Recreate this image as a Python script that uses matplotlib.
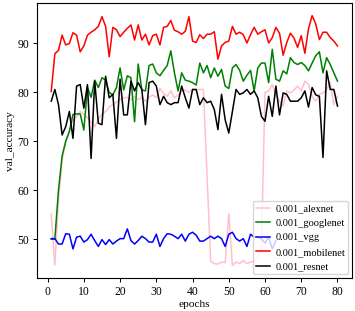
import numpy as np
import matplotlib
matplotlib.use("Agg")
import matplotlib.pyplot as plt

plt.rcParams['font.family'] = ['Liberation Serif', 'DejaVu Serif']

epochs = list(range(1, 81))

alexnet = [55.2, 44.7, 58.0, 66.0, 70.0, 72.0, 74.4, 75.0, 76.1, 75.5,
           74.8, 74.0, 73.0, 74.5, 75.5, 76.1, 77.0, 77.5, 78.0, 78.5,
           78.9, 79.0, 78.5, 79.2, 78.5, 79.0, 78.2, 79.0, 79.5, 78.9,
           80.8, 79.8, 79.2, 80.3, 78.9, 79.5, 80.3, 80.5, 80.0, 80.6,
           80.5, 80.6, 80.6, 63.0, 45.5, 45.0, 44.9, 45.3, 45.2, 55.2,
           44.6, 45.3, 45.0, 45.6, 45.0, 45.3, 45.6, 46.3, 48.4, 80.0,
           80.3, 81.6, 79.5, 78.2, 77.2, 80.3, 79.9, 80.5, 81.3, 80.3,
           82.3, 81.6, 79.2, 78.2, 79.6, 79.9, 80.6, 82.0, 77.5, 79.2]

googlenet = [50.0, 50.0, 60.0, 67.0, 70.0, 72.0, 75.5, 75.6, 75.6, 72.3,
             81.0, 79.0, 82.5, 81.0, 83.0, 82.5, 80.0, 79.5, 81.0, 85.0,
             80.5, 83.4, 83.0, 74.0, 85.8, 80.5, 80.3, 85.5, 85.8, 84.0,
             83.4, 84.5, 85.5, 88.5, 84.0, 80.3, 84.0, 82.5, 82.3, 82.0,
             81.5, 86.0, 84.0, 85.5, 83.0, 85.0, 83.3, 84.7, 81.3, 80.8,
             85.0, 85.7, 84.5, 82.3, 83.5, 84.5, 80.3, 85.0, 86.0, 86.0,
             82.0, 88.8, 82.7, 82.3, 84.4, 83.8, 87.1, 86.1, 85.7, 86.1,
             85.5, 84.4, 86.0, 87.5, 88.3, 84.0, 87.1, 85.7, 84.0, 82.3]

vgg = [50.1, 50.1, 49.0, 49.0, 51.1, 51.0, 48.0, 50.4, 50.6, 49.4,
       49.9, 51.0, 49.7, 48.5, 49.9, 48.9, 49.9, 49.0, 49.6, 50.1,
       50.1, 52.1, 49.7, 49.0, 49.7, 50.6, 50.1, 49.4, 49.4, 51.0,
       48.5, 50.1, 51.1, 51.0, 50.6, 50.1, 51.0, 49.6, 51.0, 51.4,
       50.8, 49.6, 49.6, 50.1, 50.6, 50.1, 50.6, 50.1, 48.5, 51.0,
       51.4, 50.1, 49.6, 50.1, 48.5, 51.0, 50.4, 50.4, 50.1, 49.2,
       50.4, 48.0, 49.7]

mobilenet = [80.2, 87.9, 88.6, 91.7, 89.7, 90.0, 92.2, 91.7, 88.3, 89.5,
             91.7, 92.3, 92.8, 93.5, 95.5, 93.5, 87.3, 93.3, 92.8, 91.4,
             92.3, 93.1, 93.8, 90.7, 93.8, 90.7, 91.9, 89.7, 91.6, 91.9,
             89.7, 93.3, 93.5, 94.7, 92.7, 92.4, 91.9, 92.5, 95.5, 90.5,
             90.2, 91.8, 91.0, 91.9, 91.9, 92.4, 86.8, 89.5, 90.2, 90.5,
             93.5, 91.9, 92.3, 91.8, 90.1, 91.8, 93.3, 91.9, 92.4, 92.8,
             90.1, 91.2, 93.3, 92.1, 87.6, 90.2, 92.1, 91.1, 89.2, 91.6,
             88.0, 93.0, 95.7, 94.0, 90.8, 92.3, 92.3, 91.2, 90.5, 89.5]

resnet = [78.2, 80.6, 77.5, 71.3, 73.0, 76.1, 70.6, 81.3, 81.6, 76.8,
          81.6, 66.5, 82.3, 73.7, 73.4, 83.3, 78.9, 79.6, 70.6, 82.7,
          75.4, 75.4, 82.3, 80.3, 82.0, 80.6, 73.4, 82.0, 82.3, 81.3,
          77.5, 79.2, 77.9, 77.5, 77.9, 77.9, 81.3, 78.9, 76.8, 80.6,
          80.6, 77.5, 78.9, 77.9, 78.2, 76.5, 72.4, 79.6, 74.4, 71.7,
          76.1, 80.6, 79.6, 79.9, 80.6, 79.6, 80.3, 78.9, 75.1, 74.1,
          79.2, 75.1, 81.3, 75.4, 79.9, 79.6, 78.2, 78.2, 78.2, 78.9,
          80.3, 77.0, 81.0, 79.5, 79.2, 66.7, 84.4, 80.6, 80.6, 77.2]

names = ['0.001_alexnet', '0.001_googlenet', '0.001_vgg', '0.001_mobilenet', '0.001_resnet']
series = [alexnet, googlenet, vgg, mobilenet, resnet]
colors = ['pink', 'green', 'blue', 'red', 'black']

fig = plt.figure(figsize=(3.55, 3.11), dpi=100)
ax = fig.add_axes([0.104, 0.106, 0.887, 0.884])

for name, vals, c in zip(names, series, colors):
    ax.plot(epochs[:len(vals)], vals, color=c, linewidth=1.1, label=name)

ax.set_xticks([0, 10, 20, 30, 40, 50, 60, 70, 80])
ax.set_yticks([50, 60, 70, 80, 90])
ax.tick_params(labelsize=8.4, length=3, width=0.7, pad=2.5)
ax.set_xlabel('epochs', fontsize=8.2, labelpad=2)
ax.set_ylabel('val_accuracy', fontsize=8.2, labelpad=2)
for s in ax.spines.values():
    s.set_linewidth(0.8)
ax.legend(loc='lower right', fontsize=7.5, handlelength=1.4, handletextpad=0.45,
          borderpad=0.3, labelspacing=0.5, borderaxespad=0.35)

fig.savefig('out.png', dpi=100)
